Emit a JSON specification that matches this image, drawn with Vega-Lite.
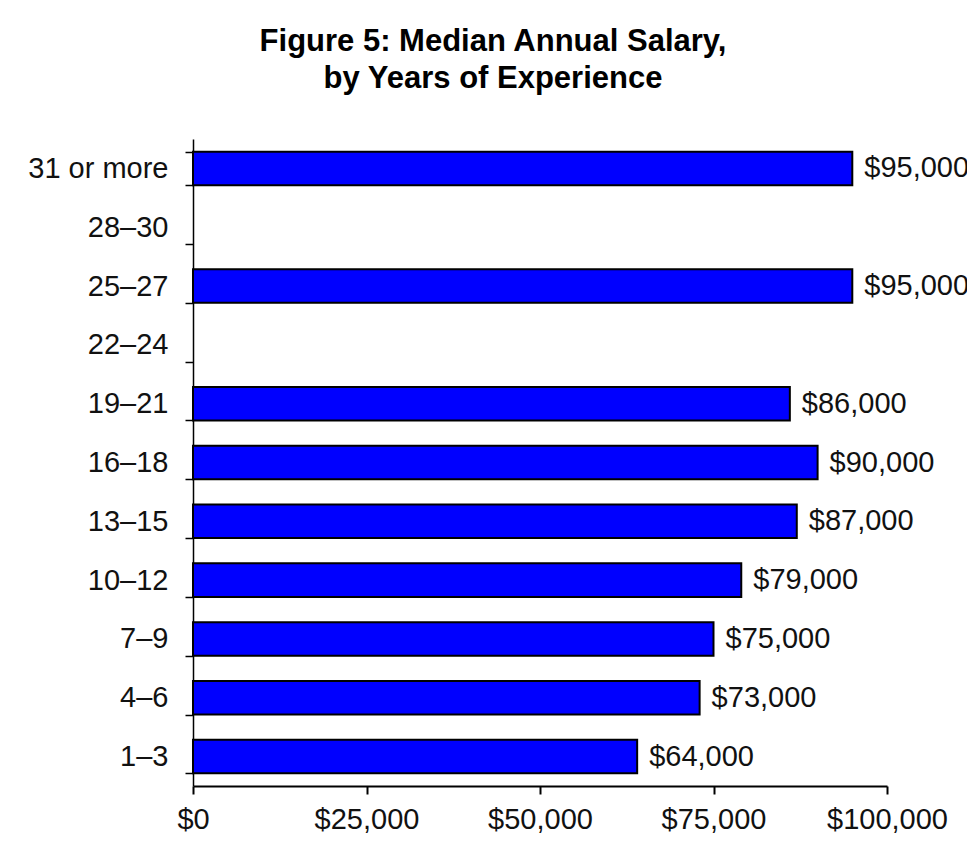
{
  "$schema": "https://vega.github.io/schema/vega-lite/v6.json",
  "autosize": {"type": "none"},
  "padding": {"left": 193, "top": 139, "right": 80, "bottom": 60},
  "width": 694,
  "height": 647,
  "background": "white",
  "title": {
    "text": ["Figure 5: Median Annual Salary,", "by Years of Experience"],
    "font": "Liberation Sans",
    "fontSize": 31,
    "fontWeight": "bold",
    "color": "#000000",
    "anchor": "middle",
    "frame": "group",
    "dx": -47,
    "offset": 30,
    "lineHeight": 37
  },
  "data": {
    "values": [
      {"years": "31 or more", "salary": 95000},
      {"years": "25–27", "salary": 95000},
      {"years": "19–21", "salary": 86000},
      {"years": "16–18", "salary": 90000},
      {"years": "13–15", "salary": 87000},
      {"years": "10–12", "salary": 79000},
      {"years": "7–9", "salary": 75000},
      {"years": "4–6", "salary": 73000},
      {"years": "1–3", "salary": 64000}
    ]
  },
  "encoding": {
    "y": {
      "field": "years",
      "type": "nominal",
      "scale": {
        "domain": ["31 or more", "28–30", "25–27", "22–24", "19–21", "16–18", "13–15", "10–12", "7–9", "4–6", "1–3"],
        "paddingInner": 0.43,
        "paddingOuter": 0.215
      },
      "axis": {
        "title": null,
        "tickBand": "extent",
        "domainColor": "#000000",
        "domainWidth": 1.5,
        "tickColor": "#000000",
        "tickWidth": 1.5,
        "tickSize": 8,
        "labelPadding": 17,
        "labelFont": "Liberation Sans",
        "labelFontSize": 29,
        "labelColor": "#111111"
      }
    },
    "x": {
      "field": "salary",
      "type": "quantitative",
      "scale": {"domain": [0, 100000], "nice": false},
      "axis": {
        "title": null,
        "values": [0, 25000, 50000, 75000, 100000],
        "format": "$,.0f",
        "grid": false,
        "domainColor": "#000000",
        "domainWidth": 2,
        "tickColor": "#000000",
        "tickWidth": 2,
        "tickSize": 8,
        "labelPadding": 11,
        "labelFont": "Liberation Sans",
        "labelFontSize": 29,
        "labelColor": "#111111",
        "labelFlush": false,
        "labelOverlap": false
      }
    }
  },
  "layer": [
    {
      "mark": {"type": "bar", "fill": "#0000FF", "stroke": "#000000", "strokeWidth": 2}
    },
    {
      "mark": {"type": "text", "align": "left", "baseline": "middle", "dx": 12, "font": "Liberation Sans", "fontSize": 29, "color": "#111111"},
      "encoding": {
        "text": {"field": "salary", "type": "quantitative", "format": "$,.0f"}
      }
    }
  ],
  "config": {
    "view": {"stroke": null}
  }
}
